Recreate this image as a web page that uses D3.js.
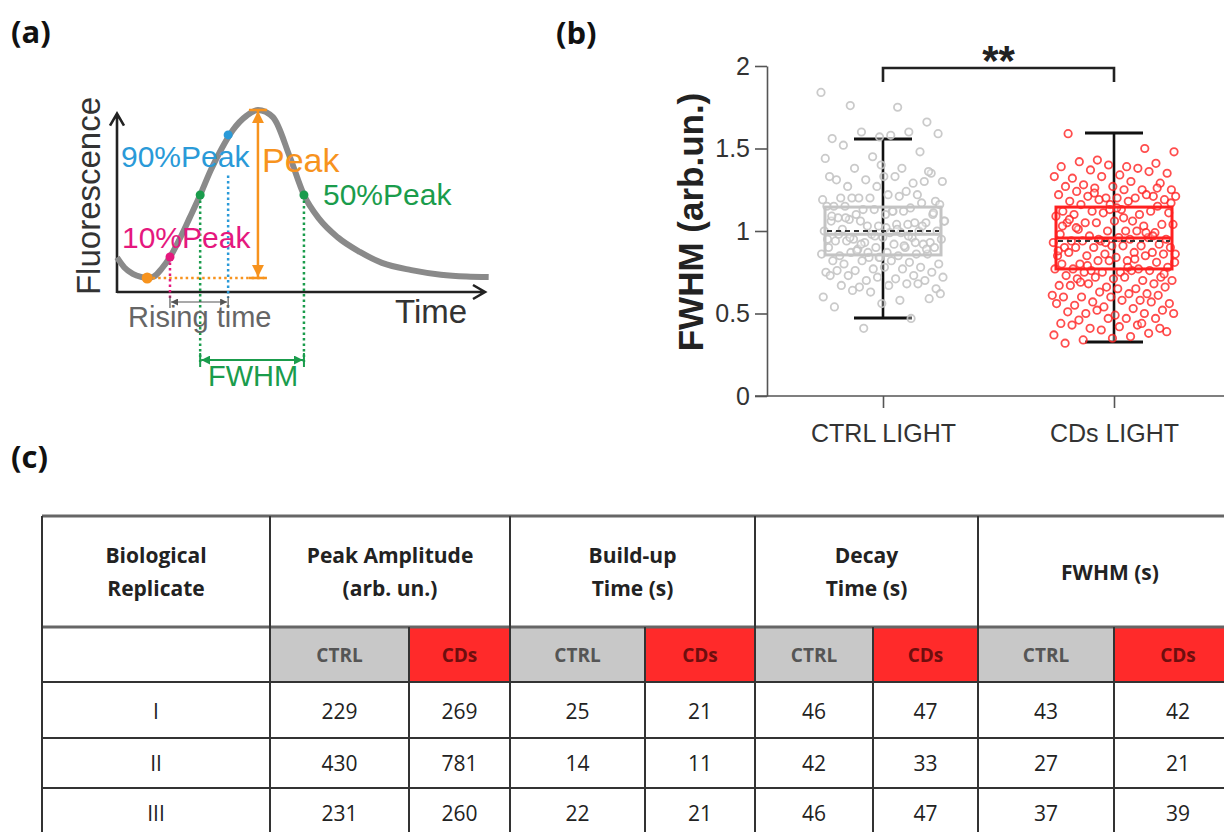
<!DOCTYPE html>
<html>
<head>
<meta charset="utf-8">
<script src="https://cdn.jsdelivr.net/npm/d3@7"></script>
<style>
  body { margin: 0; background: #fff; }
  svg { display: block; }
</style>
</head>
<body>
<svg width="1224" height="832"></svg>
<script>
// ---- panel (a): schematic calcium trace (time 0-100, fluorescence 0-1)
const traceTime = [0, 2, 4.3, 6.5, 8.2, 10, 12.2, 14.4, 17, 19.8, 22.6, 25.5, 28.5, 31.5, 35.3, 38.3,
    42.4, 47, 50.8, 55, 60, 66, 72, 80, 88, 95, 101];
const traceFluo = [0.19, 0.135, 0.1, 0.083, 0.077, 0.085, 0.13, 0.192, 0.29, 0.41, 0.533, 0.67, 0.79, 0.89, 0.97, 1.0,
    0.96, 0.74, 0.533, 0.40, 0.30, 0.22, 0.16, 0.12, 0.095, 0.085, 0.082];

// key points on the trace
const keyNames = ["base", "p10", "p50rise", "p90", "peak", "p50decay"];
const keyTime = [8.2, 14.4, 22.6, 30.2, 38.3, 50.8];
const keyFluo = [0.077, 0.192, 0.533, 0.863, 1.0, 0.533];

// ---- panel (b): FWHM values per cell
const groups = ["CTRL LIGHT", "CDs LIGHT"];
const ctrlValues = [1.84, 1.75, 1.76, 1.66, 1.57, 1.56, 1.6, 1.6, 1.59, 1.58, 1.52, 1.48, 1.45, 1.44, 1.38, 1.38, 1.35, 1.33, 1.31,
    1.29, 1.31, 1.3, 1.33, 1.27, 1.3, 1.27, 1.33, 1.24, 1.2, 1.18, 1.22, 1.2, 1.22, 1.2, 1.19, 1.21, 1.2, 1.36, 1.4,
    1.15, 1.14, 1.13, 1.16, 1.12, 1.15, 1.17, 1.13, 1.15, 1.12, 1.1, 1.1, 1.1, 1.08,
    1.05, 1.03, 1.06, 1.04, 1.07, 1.05, 1.03, 1.06, 1.04, 1.06, 1.0, 0.99, 1.01, 1.0, 0.98, 1.0, 0.99,
    0.95, 0.93, 0.96, 0.94, 0.96, 0.93, 0.95, 0.92, 0.94, 0.92, 0.9, 0.9, 0.9, 0.89, 0.9,
    0.87, 0.85, 0.86, 0.84, 0.86, 0.85, 0.87, 0.86, 0.84, 0.82, 0.81, 0.82, 0.8, 0.82, 0.8,
    0.78, 0.77, 0.75, 0.77, 0.76, 0.75, 0.78, 0.76, 0.73, 0.7, 0.72, 0.71, 0.73, 0.7, 0.72, 0.73, 0.68, 0.66, 0.65, 0.67, 0.67, 0.68,
    0.63, 0.6, 0.58, 0.64, 0.59, 0.56, 0.54, 0.47, 0.41, 0.62,
    1.12, 1.08, 1.03, 0.97, 0.95, 0.91, 0.88, 1.11, 1.02, 0.98, 0.93, 0.87, 1.06, 1.01, 0.96, 0.89, 0.84, 1.09, 0.97, 0.92];
const cdsValues = [1.59, 1.5, 1.43, 1.48, 1.39, 1.42, 1.41, 1.4, 1.39, 1.38, 1.37, 1.35, 1.34, 1.32, 1.36, 1.33, 1.33, 1.3, 1.28, 1.29,
    1.27, 1.27, 1.25, 1.26, 1.25, 1.25, 1.24,
    1.21, 1.2, 1.22, 1.2, 1.21, 1.19, 1.2, 1.18, 1.22, 1.19, 1.21, 1.18, 1.16, 1.15, 1.16,
    1.12, 1.1, 1.12, 1.11, 1.13, 1.1, 1.12, 1.11, 1.09, 1.06, 1.05, 1.04, 1.06, 1.05, 1.03, 1.05, 1.04, 1.0, 1.01, 0.99, 1.0, 0.98, 1.0,
    0.97, 0.95, 0.96, 0.94, 0.96, 0.94, 0.93, 0.95, 0.94, 0.92, 0.91, 0.9, 0.91, 0.9, 0.9, 0.91, 0.9,
    0.87, 0.86, 0.85, 0.87, 0.85, 0.86, 0.84, 0.87, 0.85, 0.82, 0.81, 0.82, 0.8, 0.81, 0.82, 0.8,
    0.77, 0.76, 0.78, 0.75, 0.77, 0.76, 0.75, 0.77, 0.76, 0.75, 0.72, 0.71, 0.73, 0.7, 0.72, 0.7, 0.72, 0.71,
    0.68, 0.66, 0.67, 0.65, 0.68, 0.66, 0.65, 0.67, 0.62, 0.63, 0.61, 0.62, 0.6, 0.61, 0.6, 0.6,
    0.58, 0.57, 0.56, 0.58, 0.55, 0.57, 0.54, 0.56, 0.53, 0.5, 0.52, 0.49, 0.51, 0.5, 0.52, 0.5, 0.47, 0.46, 0.47, 0.47,
    0.44, 0.43, 0.41, 0.39, 0.42, 0.43, 0.38, 0.4, 0.37, 0.36, 0.34, 0.41, 0.35, 0.32, 0.44,
    1.23, 1.17, 1.08, 1.02, 0.97, 0.93, 0.88, 0.83, 0.79, 0.74, 1.14, 1.07, 0.99, 0.95, 0.86, 0.78, 0.69, 1.26, 1.13, 1.03];

// box statistics [CTRL, CDs]
const boxQ1 = [0.855, 0.77];
const boxQ3 = [1.145, 1.145];
const boxMedian = [0.98, 0.958];
const boxMean = [1.0, 0.94];
const whiskerLow = [0.473, 0.327];
const whiskerHigh = [1.557, 1.594];
const yTicks = [0, 0.5, 1, 1.5, 2];

// ---- panel (c): table values
const replicates = ["I", "II", "III"];
const peakCtrl = [229, 430, 231];
const peakCds = [269, 781, 260];
const buildCtrl = [25, 14, 22];
const buildCds = [21, 11, 21];
const decayCtrl = [46, 42, 46];
const decayCds = [47, 33, 47];
const fwhmCtrl = [43, 27, 37];
const fwhmCds = [42, 21, 39];
const headers = [["Biological", "Replicate"], ["Peak Amplitude", "(arb. un.)"], ["Build-up", "Time (s)"], ["Decay", "Time (s)"], ["FWHM (s)"]];

const svg = d3.select("svg");
const sans = "'Liberation Sans', Arial, sans-serif";
const cal = "'Open Sans', sans-serif";

// panel letters
svg.selectAll("text.panel")
    .data([["(a)", 11, 43], ["(b)", 556, 44], ["(c)", 11, 468]])
    .enter().append("text")
    .attr("class", "panel")
    .attr("x", d => d[1]).attr("y", d => d[2])
    .attr("font-family", cal).attr("font-weight", 700).attr("font-size", 31)
    .attr("fill", "#111")
    .text(d => d[0]);

// ================= panel (a) =================
const xa = d3.scaleLinear().domain([0, 100]).range([117, 485]);
const ya = d3.scaleLinear().domain([0, 1]).range([292, 110]);
const ga = svg.append("g");

const defs = svg.append("defs");
function tri(id, color, w, h) {
    defs.append("marker").attr("id", id)
        .attr("viewBox", "0 0 10 10").attr("refX", 10).attr("refY", 5)
        .attr("markerUnits", "userSpaceOnUse")
        .attr("markerWidth", w).attr("markerHeight", h)
        .attr("orient", "auto-start-reverse")
        .append("path").attr("d", "M0,0 L10,5 L0,10 z").attr("fill", color);
}
tri("arO", "#f7931e", 13, 12);
tri("arG", "#1a9c4c", 9, 9);
tri("arK", "#555", 7, 7);

const kx = i => xa(keyTime[i]);
const ky = i => ya(keyFluo[i]);

// axes with open arrow heads
ga.append("path")
    .attr("d", `M${xa(0)},${ya(-0.005)} V${ya(0.98)} M${xa(0) - 7},${ya(0.98) + 12} L${xa(0)},${ya(0.98)} L${xa(0) + 7},${ya(0.98) + 12}`)
    .attr("fill", "none").attr("stroke", "#222").attr("stroke-width", 2.6);
ga.append("path")
    .attr("d", `M${xa(0)},${ya(0)} H${xa(100)} M${xa(100) - 12},${ya(0) - 7} L${xa(100)},${ya(0)} L${xa(100) - 12},${ya(0) + 7}`)
    .attr("fill", "none").attr("stroke", "#222").attr("stroke-width", 2.6);

// trace
ga.append("path")
    .datum(traceTime.map((t, i) => [t, traceFluo[i]]))
    .attr("d", d3.line().x(d => xa(d[0])).y(d => ya(d[1])).curve(d3.curveMonotoneX))
    .attr("fill", "none").attr("stroke", "#8a8a8a").attr("stroke-width", 6);

// dotted guides
const dot = "2.5,3";
const guides = [
    [kx(0), ky(0), xa(40), ky(0), "#f7931e"],
    [kx(1), ky(1), kx(1), ya(0) + 6, "#e5187e"],
    [kx(3), ya(0.64), kx(3), ya(0) + 6, "#2a9ad8"],
    [kx(2), ky(2), kx(2), ya(0) + 70, "#1a9c4c"],
    [kx(5), ky(5), kx(5), ya(0) + 70, "#1a9c4c"]
];
ga.selectAll("line.guide").data(guides).enter().append("line")
    .attr("x1", d => d[0]).attr("y1", d => d[1]).attr("x2", d => d[2]).attr("y2", d => d[3])
    .attr("stroke", d => d[4]).attr("stroke-width", 2.5).attr("stroke-dasharray", dot);

// peak arrow with caps
const px = kx(4);
ga.append("line").attr("x1", px).attr("x2", px).attr("y1", ky(4) + 1).attr("y2", ky(0) - 1)
    .attr("stroke", "#f7931e").attr("stroke-width", 2.5)
    .attr("marker-start", "url(#arO)").attr("marker-end", "url(#arO)");
[ky(4), ky(0)].forEach(y => ga.append("line").attr("x1", px - 9).attr("x2", px + 9).attr("y1", y).attr("y2", y)
    .attr("stroke", "#f7931e").attr("stroke-width", 2.5));

// FWHM arrow
const fy = ya(0) + 68;
ga.append("line").attr("x1", kx(2) + 1).attr("x2", kx(5) - 1).attr("y1", fy).attr("y2", fy)
    .attr("stroke", "#1a9c4c").attr("stroke-width", 2)
    .attr("marker-start", "url(#arG)").attr("marker-end", "url(#arG)");
[kx(2), kx(5)].forEach(x => ga.append("line").attr("x1", x).attr("x2", x).attr("y1", fy - 7).attr("y2", fy + 7)
    .attr("stroke", "#1a9c4c").attr("stroke-width", 2));

// rising time arrow
const ry = ya(0) + 10;
ga.append("line").attr("x1", kx(1) + 1).attr("x2", kx(3) - 1).attr("y1", ry).attr("y2", ry)
    .attr("stroke", "#555").attr("stroke-width", 1.2)
    .attr("marker-start", "url(#arK)").attr("marker-end", "url(#arK)");
[kx(1), kx(3)].forEach(x => ga.append("line").attr("x1", x).attr("x2", x).attr("y1", ry - 6).attr("y2", ry + 6)
    .attr("stroke", "#555").attr("stroke-width", 1.2));

// key dots
const dotColors = ["#f7931e", "#e5187e", "#1a9c4c", "#2a9ad8", null, "#1a9c4c"];
ga.selectAll("circle.key").data(keyNames.map((n, i) => i).filter(i => dotColors[i]))
    .enter().append("circle")
    .attr("cx", i => kx(i)).attr("cy", i => ky(i))
    .attr("r", i => i === 0 ? 5.5 : 4.5)
    .attr("fill", i => dotColors[i]);

// annotation texts
const annots = [
    ["90%Peak", 121, 167, 30, "#2a9ad8"],
    ["10%Peak", 122, 248, 30, "#e5187e"],
    ["50%Peak", 323, 205, 30, "#1a9c4c"],
    ["Peak", 262, 172, 34, "#f7931e"],
    ["Rising time", 128, 327, 29, "#666"],
    ["FWHM", 208, 386, 29, "#1a9c4c"],
    ["Time", 395, 323, 33, "#333"]
];
ga.selectAll("text.ann").data(annots).enter().append("text")
    .attr("x", d => d[1]).attr("y", d => d[2])
    .attr("font-family", sans).attr("font-size", d => d[3]).attr("fill", d => d[4])
    .text(d => d[0]);
ga.append("text")
    .attr("transform", "translate(100,196) rotate(-90)")
    .attr("text-anchor", "middle")
    .attr("font-family", sans).attr("font-size", 33).attr("fill", "#333")
    .text("Fluorescence");

// ================= panel (b) =================
const yb = d3.scaleLinear().domain([0, 2]).range([396, 66]);
const xb = d3.scalePoint().domain(groups).range([883, 1114]);
const gb = svg.append("g");
const colors = ["#c4c4c4", "#ff2020"];
const boxHalf = 58, capHalf = 29;

const yAxis = gb.append("g").attr("transform", "translate(767,0)")
    .call(d3.axisLeft(yb).tickValues(yTicks).tickFormat(d => d).tickSize(12).tickSizeOuter(0).tickPadding(5));
const xAxis = gb.append("g").attr("transform", "translate(0,396)")
    .call(d3.axisBottom(xb).tickSize(12).tickSizeOuter(0).tickPadding(16));
xAxis.select(".domain").remove();
gb.append("line").attr("x1", 755).attr("x2", 1224).attr("y1", 396).attr("y2", 396)
    .attr("stroke", "#555").attr("stroke-width", 1.6);
[yAxis, xAxis].forEach(a => {
    a.selectAll("path,line").attr("stroke", "#555").attr("stroke-width", 1.6);
    a.selectAll("text").attr("font-family", sans).attr("font-size", 25).attr("fill", "#333");
});

gb.append("text")
    .attr("transform", "translate(703,222) rotate(-90)")
    .attr("text-anchor", "middle")
    .attr("font-family", sans).attr("font-weight", 700).attr("font-size", 35).attr("fill", "#222")
    .text("FWHM (arb.un.)");

// whiskers
groups.forEach((g, i) => {
    const cx = xb(g);
    gb.append("line").attr("x1", cx).attr("x2", cx).attr("y1", yb(whiskerLow[i])).attr("y2", yb(whiskerHigh[i]))
        .attr("stroke", "#111").attr("stroke-width", 2.6);
    [whiskerLow[i], whiskerHigh[i]].forEach(v => gb.append("line")
        .attr("x1", cx - capHalf).attr("x2", cx + capHalf).attr("y1", yb(v)).attr("y2", yb(v))
        .attr("stroke", "#111").attr("stroke-width", 3));
});

// jittered points (deterministic golden-ratio spread)
[ctrlValues, cdsValues].forEach((vals, gi) => {
    const cx = xb(groups[gi]);
    gb.append("g").selectAll("circle").data(vals).enter().append("circle")
        .attr("cx", (v, i) => cx + ((i * 0.6180339 + 0.13 * gi) % 1 * 2 - 1) * (boxHalf + 4))
        .attr("cy", v => yb(v))
        .attr("r", 3.7)
        .attr("fill", "rgba(255,255,255,0.3)")
        .attr("stroke", colors[gi]).attr("stroke-width", 1.8)
        .attr("stroke-opacity", gi ? 0.8 : 0.9);
});

// boxes, medians and mean lines
groups.forEach((g, i) => {
    const cx = xb(g);
    gb.append("rect").attr("x", cx - boxHalf).attr("width", boxHalf * 2)
        .attr("y", yb(boxQ3[i])).attr("height", yb(boxQ1[i]) - yb(boxQ3[i]))
        .attr("fill", "none").attr("stroke", colors[i]).attr("stroke-width", 3);
    gb.append("line").attr("x1", cx - boxHalf).attr("x2", cx + boxHalf)
        .attr("y1", yb(boxMedian[i])).attr("y2", yb(boxMedian[i]))
        .attr("stroke", colors[i]).attr("stroke-width", 3);
    gb.append("line").attr("x1", cx - boxHalf + 2).attr("x2", cx + boxHalf - 2)
        .attr("y1", yb(boxMean[i])).attr("y2", yb(boxMean[i]))
        .attr("stroke", "#333").attr("stroke-width", 2).attr("stroke-dasharray", "5,4");
});

// significance bracket
gb.append("path")
    .attr("d", `M${xb(groups[0])},82 V68 H${xb(groups[1])} V82`)
    .attr("fill", "none").attr("stroke", "#222").attr("stroke-width", 2.6);
gb.append("text").attr("x", (xb(groups[0]) + xb(groups[1])) / 2).attr("y", 75)
    .attr("text-anchor", "middle").attr("font-family", sans).attr("font-weight", 700).attr("font-size", 42)
    .attr("fill", "#222").text("**");

// ================= panel (c) table =================
const gc = svg.append("g");
const colX = [42, 270, 409, 510, 645, 755, 873, 978, 1114, 1242];
const rowY = [516, 627, 682, 738, 788, 840];
const cellColors = ["#c8c8c8", "#ff2a2a"];
const cellText = ["#555", "#6e0e0e"];
const columns = [peakCtrl, peakCds, buildCtrl, buildCds, decayCtrl, decayCds, fwhmCtrl, fwhmCds];

// subheader fills
columns.forEach((c, j) => {
    gc.append("rect").attr("x", colX[j + 1]).attr("y", rowY[1])
        .attr("width", colX[j + 2] - colX[j + 1]).attr("height", rowY[2] - rowY[1])
        .attr("fill", cellColors[j % 2]);
    gc.append("text").attr("x", (colX[j + 1] + colX[j + 2]) / 2).attr("y", 662)
        .attr("text-anchor", "middle").attr("font-family", cal).attr("font-weight", 700).attr("font-size", 19)
        .attr("fill", cellText[j % 2]).text(j % 2 ? "CDs" : "CTRL");
});

// header texts
headers.forEach((h, k) => {
    const x0 = k === 0 ? colX[0] : colX[2 * k - 1];
    const x1 = k === 0 ? colX[1] : colX[2 * k + 1];
    const base = h.length === 1 ? [580] : [563, 596];
    h.forEach((line, li) => gc.append("text")
        .attr("x", (x0 + x1) / 2).attr("y", base[li])
        .attr("text-anchor", "middle").attr("font-family", cal).attr("font-weight", 700).attr("font-size", 21)
        .attr("fill", "#222").text(line));
});

// body
const rowBase = [719, 771, 821];
replicates.forEach((r, i) => {
    gc.append("text").attr("x", (colX[0] + colX[1]) / 2).attr("y", rowBase[i])
        .attr("text-anchor", "middle").attr("font-family", cal).attr("font-size", 21).attr("fill", "#222").text(r);
    columns.forEach((c, j) => gc.append("text")
        .attr("x", (colX[j + 1] + colX[j + 2]) / 2).attr("y", rowBase[i])
        .attr("text-anchor", "middle").attr("font-family", cal).attr("font-size", 21).attr("fill", "#222")
        .text(c[i]));
});

// grid lines
rowY.slice(0, 5).forEach((y, i) => gc.append("line")
    .attr("x1", colX[0]).attr("x2", colX[9]).attr("y1", y).attr("y2", y)
    .attr("stroke", i < 2 ? "#666" : "#333").attr("stroke-width", i < 2 ? 3 : 2));
colX.slice(0, 9).forEach((x, j) => gc.append("line")
    .attr("x1", x).attr("x2", x).attr("y1", (j === 0 || j % 2 === 1) ? rowY[0] : rowY[1]).attr("y2", rowY[5])
    .attr("stroke", "#333").attr("stroke-width", 2));
</script>
</body>
</html>
